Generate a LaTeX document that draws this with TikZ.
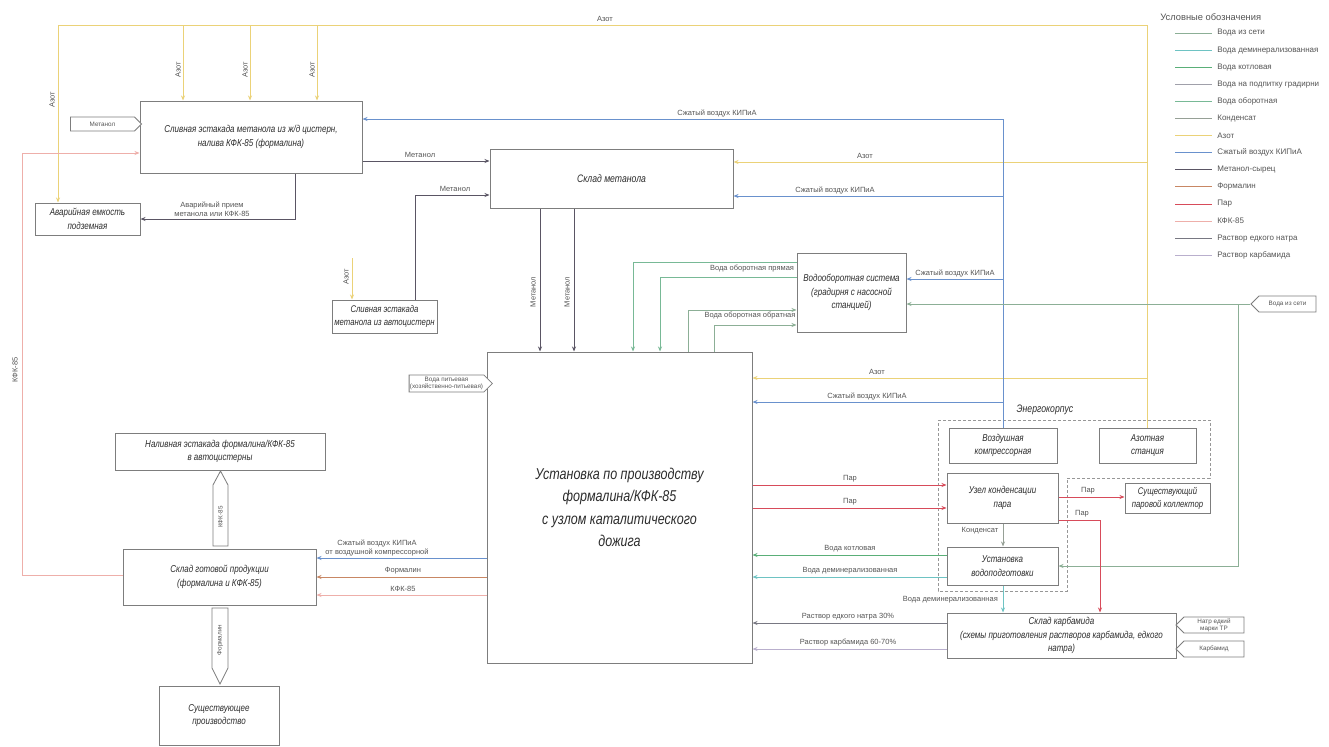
\documentclass[tikz,border=0pt]{standalone}
\usepackage{fontspec}
\setmainfont{Liberation Sans}
\newfontfamily\boxfont[FakeStretch=0.8]{Liberation Sans}
\usetikzlibrary{arrows.meta,shapes.symbols}
\def\pxu{0.6pt}
\definecolor{azotc}{RGB}{235,210,120}
\definecolor{airc}{RGB}{105,145,205}
\definecolor{parc}{RGB}{215,75,90}
\definecolor{kfkc}{RGB}{238,175,170}
\definecolor{formc}{RGB}{200,135,100}
\definecolor{metc}{RGB}{90,85,100}
\definecolor{vodgc}{RGB}{140,175,150}
\definecolor{vodkc}{RGB}{90,175,120}
\definecolor{voddc}{RGB}{110,195,195}
\definecolor{vodoc}{RGB}{120,185,150}
\definecolor{vodpc}{RGB}{160,160,170}
\definecolor{kondc}{RGB}{150,160,150}
\definecolor{rnc}{RGB}{120,120,130}
\definecolor{rkc}{RGB}{185,175,205}
\definecolor{boxc}{RGB}{125,125,125}
\definecolor{txtc}{RGB}{45,45,45}
\definecolor{lblc}{RGB}{85,85,85}
\newcommand{\procbox}[7][]{\node[pbox,#1, minimum width={(#5-#3)*\pxu}, minimum height={(#6-#4)*\pxu}] (#2) at ({(#3+#5)/2},{(#4+#6)/2}) {#7};}
\tikzset{
  pbox/.style={draw=boxc, line width=0.6pt, fill=white, inner sep=1pt, align=center,
    font=\boxfont\itshape\fontsize{6}{8}\selectfont, text=txtc},
  sig/.style={signal, draw=boxc, fill=white, line width=0.5pt, inner sep=0.5pt, align=center,
    font=\fontsize{3.8}{4.4}\selectfont, text=lblc},
  lbl/.style={font=\fontsize{4.5}{5.2}\selectfont, text=lblc, inner sep=0.5pt, align=center},
  lgd/.style={font=\fontsize{4.8}{6}\selectfont, text=lblc, inner sep=0pt, anchor=west},
  ln/.style={line width=0.5pt},
  arr/.style={ln,-{Stealth[length=3pt,width=2.4pt]}},
  azot/.style={draw=azotc}, air/.style={draw=airc}, par/.style={draw=parc},
  kfk/.style={draw=kfkc}, form/.style={draw=formc}, met/.style={draw=metc},
  vodg/.style={draw=vodgc}, vodk/.style={draw=vodkc}, vodd/.style={draw=voddc},
  vodo/.style={draw=vodoc}, kond/.style={draw=kondc}, rn/.style={draw=rnc}, rk/.style={draw=rkc}
}
\begin{document}
\begin{tikzpicture}[x=0.6pt,y=-0.6pt]
\useasboundingbox (0,0) rectangle (1329,747);
\fill[white] (0,0) rectangle (1329,747);

% ---------- boxes ----------
\procbox{top}{140}{101}{362}{173}{Сливная эстакада метанола из ж/д цистерн,\\налива КФК-85 (формалина)}
\procbox{avar}{35}{203}{140}{235}{Аварийная емкость\\подземная}
\procbox[font=\boxfont\itshape\fontsize{6.5}{8}\selectfont]{sklm}{490}{149}{733}{208}{Склад метанола}
\procbox[font=\boxfont\itshape\fontsize{5.8}{8}\selectfont]{avto}{332}{300}{437}{333}{Сливная эстакада\\метанола из автоцистерн}
\procbox{vodo}{797}{253}{906}{332}{Водооборотная система\\(градирня с насосной\\станцией)}
\procbox[font=\boxfont\itshape\fontsize{9.4}{13.5}\selectfont]{main}{487}{352}{752}{663}{Установка по производству\\формалина/КФК-85\\с узлом каталитического\\дожига}
\procbox{vkomp}{949}{428}{1057}{463}{Воздушная\\компрессорная}
\procbox{azst}{1099}{428}{1196}{463}{Азотная\\станция}
\procbox{uzel}{947}{473}{1058}{523}{Узел конденсации\\пара}
\procbox[font=\boxfont\itshape\fontsize{5.8}{7.8}\selectfont]{koll}{1125}{483}{1210}{513}{Существующий\\паровой коллектор}
\procbox{vodp}{947}{547}{1058}{585}{Установка\\водоподготовки}
\procbox[font=\boxfont\itshape\fontsize{6}{8}\selectfont]{karb}{947}{613}{1176}{658}{Склад карбамида\\(схемы приготовления растворов карбамида, едкого\\натра)}
\procbox{naliv}{115}{433}{325}{470}{Наливная эстакада формалина/КФК-85\\в автоцистерны}
\procbox{sgp}{123}{549}{316}{605}{Склад готовой продукции\\(формалина и КФК-85)}
\procbox{susch}{159}{686}{279}{745}{Существующее\\производство}

% ---------- pentagons ----------
\node[sig, signal to=east, minimum width=71*\pxu, minimum height=14*\pxu] (pm) at (102.5,124) {Метанол};
\node[sig, signal to=east, minimum width=73*\pxu, minimum height=17*\pxu] (pvp) at (446.5,383.5) {Вода питьевая\\(хозяйственно-питьевая)};
\node[sig, signal to=west, minimum width=65*\pxu, minimum height=16*\pxu] (pvr) at (1287.5,304) {Вода из сети};
\node[sig, signal to=west, minimum width=68*\pxu, minimum height=16*\pxu] (pnatr) at (1214,625) {Натр едкий\\марки ТР};
\node[sig, signal to=west, minimum width=68*\pxu, minimum height=16*\pxu] (pkarb) at (1214,649) {Карбамид};

% ---------- Энергокорпус ----------
\draw[boxc!80, line width=0.5pt, dash pattern=on 2pt off 1pt] (938,420) -- (1210,420) -- (1210,478) -- (1067,478) -- (1067,591) -- (938,591) -- cycle;
\node[font=\boxfont\itshape\fontsize{6.5}{8}\selectfont, text=txtc] (energo) at (1045,410) {Энергокорпус};

% ---------- Азот ----------
\coordinate (azTR) at (azst.north |- 0,25);
\coordinate (azTL) at (58,25);
\draw[azot,arr] (azst.north) -- (azTR) -- (azTL) -- (azTL |- avar.north);
\node[lbl] (azl0) at (605,19) {Азот};
\node[lbl,rotate=90] (azlv) at (52,100) {Азот};
\foreach \xx [count=\k] in {183,250,317} {
  \coordinate (azb\k) at (\xx,25);
  \draw[azot,arr] (azb\k) -- (azb\k |- top.north);
  \node[lbl,rotate=90] (azl\k) at (\xx-5,70) {Азот};
}
\coordinate (az2) at (azst.north |- 0,162);
\draw[azot,arr] (az2) -- (az2 -| sklm.east);
\node[lbl] (azl4) at (865,156) {Азот};
\coordinate (az3) at (azst.north |- 0,378);
\draw[azot,arr] (az3) -- (az3 -| main.east);
\node[lbl] (azl5) at (877,372) {Азот};
\coordinate (az4) at (352,258);
\draw[azot,arr] (az4) -- (az4 |- avto.north);
\node[lbl,rotate=90] (azl6) at (346,277) {Азот};

% ---------- Сжатый воздух ----------
\coordinate (aiT) at (vkomp.north |- 0,119);
\draw[air,arr] (vkomp.north) -- (aiT) -- (aiT -| top.east);
\node[lbl] (ail1) at (717,113) {Сжатый воздух КИПиА};
\coordinate (ai2) at (vkomp.north |- 0,196);
\draw[air,arr] (ai2) -- (ai2 -| sklm.east);
\node[lbl] (ail2) at (835,190) {Сжатый воздух КИПиА};
\coordinate (ai3) at (vkomp.north |- 0,279);
\draw[air,arr] (ai3) -- (ai3 -| vodo.east);
\node[lbl] (ail3) at (955,273) {Сжатый воздух КИПиА};
\coordinate (ai4) at (vkomp.north |- 0,402);
\draw[air,arr] (ai4) -- (ai4 -| main.east);
\node[lbl] (ail4) at (867,396) {Сжатый воздух КИПиА};

% ---------- Вода из сети ----------
\draw[vodg,arr] (pvr.west) -- (pvr.west -| vodo.east);
\coordinate (w2) at (1238,304);
\draw[vodg,arr] (w2) |- (vodp.east);

% ---------- Вода оборотная ----------
\coordinate (vo1) at (633,262); \coordinate (vo2) at (660,277);
\coordinate (vo3) at (688,310); \coordinate (vo4) at (714,325);
\draw[vodo,arr] (vo1 -| vodo.west) -- (vo1) -- (vo1 |- main.north);
\draw[vodo,arr] (vo2 -| vodo.west) -- (vo2) -- (vo2 |- main.north);
\draw[vodg,arr] (vo3 |- main.north) -- (vo3) -- (vo3 -| vodo.west);
\draw[vodg,arr] (vo4 |- main.north) -- (vo4) -- (vo4 -| vodo.west);
\node[lbl] (vol1) at (752,269) {Вода оборотная прямая};
\node[lbl] (vol2) at (750,316) {Вода оборотная обратная};

% ---------- Метанол ----------
\draw[met,arr] (top.east |- 0,161) -- (sklm.west |- 0,161);
\node[lbl] (mel1) at (420,155) {Метанол};
\draw[met,arr] (sklm.south -| 540,0) -- (main.north -| 540,0);
\draw[met,arr] (sklm.south -| 574,0) -- (main.north -| 574,0);
\node[lbl,rotate=90] (mel2) at (533,292) {Метанол};
\node[lbl,rotate=90] (mel3) at (567,292) {Метанол};
\draw[met,arr] (avto.north -| 415,0) |- (sklm.west |- 0,195);
\node[lbl] (mel4) at (455,189) {Метанол};
\draw[met,arr] (top.south -| 295,0) |- (avar.east);
\node[lbl] (mel5) at (212,209) {Аварийный прием\\метанола или КФК-85};

% ---------- КФК-85 обратно ----------
\coordinate (kfkc) at (22,153);
\draw[kfk,arr] (sgp.west |- 0,575) -| (kfkc) -- (top.west |- kfkc);
\node[lbl,rotate=90] (kfl1) at (15,370) {КФК-85};

% ---------- main -> склад готовой продукции ----------
\draw[air,arr] (main.west |- 0,558) -- (sgp.east |- 0,558);
\node[lbl] (sgl1) at (377,548) {Сжатый воздух КИПиА\\от воздушной компрессорной};
\draw[form,arr] (main.west |- 0,577) -- (sgp.east |- 0,577);
\node[lbl] (sgl2) at (403,571) {Формалин};
\draw[kfk,arr] (main.west |- 0,595) -- (sgp.east |- 0,595);
\node[lbl] (sgl3) at (403,589) {КФК-85};

% ---------- main east ----------
\draw[par,arr] (main.east |- 0,485) -- (uzel.west |- 0,485);
\node[lbl] (mrl1) at (850,479) {Пар};
\draw[par,arr] (main.east |- 0,508) -- (uzel.west |- 0,508);
\node[lbl] (mrl2) at (850,502) {Пар};
\draw[vodk,arr] (vodp.west |- 0,555) -- (main.east |- 0,555);
\node[lbl] (mrl3) at (850,549) {Вода котловая};
\draw[vodd,arr] (vodp.west |- 0,577) -- (main.east |- 0,577);
\node[lbl] (mrl4) at (850,571) {Вода деминерализованная};
\draw[rn,arr] (karb.west |- 0,623) -- (main.east |- 0,623);
\node[lbl] (mrl5) at (848,617) {Раствор едкого натра 30\%};
\draw[rk,arr] (karb.west |- 0,649) -- (main.east |- 0,649);
\node[lbl] (mrl6) at (848,643) {Раствор карбамида 60-70\%};

% ---------- energy block ----------
\draw[par,arr] (uzel.east |- 0,497) -- (koll.west |- 0,497);
\node[lbl] (enl1) at (1088,491) {Пар};
\draw[par,arr] (uzel.east |- 0,520) -| (karb.north -| 1100,0);
\node[lbl] (enl2) at (1082,514) {Пар};
\draw[kond,arr] (uzel.south -| 1003,0) -- (vodp.north -| 1003,0);
\node[lbl] (enl3) at (980,531) {Конденсат};
\draw[vodd,arr] (vodp.south -| 1003,0) -- (karb.north -| 1003,0);
\node[lbl,anchor=east] (enl4) at (999,600) {Вода деминерализованная};

% ---------- fat arrows ----------
\draw[boxc, line width=0.5pt, fill=white] (213,546) -- (213,485) -- (220.5,471) -- (228,485) -- (228,546) -- cycle;
\node[lbl,rotate=90,font=\fontsize{3.8}{4.4}\selectfont] (fa1) at (220.5,517) {КФК-85};
\draw[boxc, line width=0.5pt, fill=white] (212,608) -- (212,668) -- (220,684) -- (228,668) -- (228,608) -- cycle;
\node[lbl,rotate=90,font=\fontsize{3.8}{4.4}\selectfont] (fa2) at (220,640) {Формалин};

% ---------- legend ----------
\node[font=\fontsize{5.6}{7}\selectfont, text=lblc, anchor=west, inner sep=0pt] (lgt) at (1160,17) {Условные обозначения};
\foreach \c/\t [count=\i from 0] in {
  vodgc/Вода из сети, voddc/Вода деминерализованная, vodkc/Вода котловая,
  vodpc/Вода на подпитку градирни, vodoc/Вода оборотная, kondc/Конденсат,
  azotc/Азот, airc/Сжатый воздух КИПиА, metc/Метанол-сырец, formc/Формалин,
  parc/Пар, kfkc/КФК-85, rnc/Раствор едкого натра, rkc/Раствор карбамида} {
  \draw[draw=\c, line width=0.6pt] (1175,{33+17.1*\i}) -- (1212,{33+17.1*\i});
  \node[lgd] (lg\i) at (1217,{33+17.1*\i}) {\t};
}
\end{tikzpicture}
\end{document}
